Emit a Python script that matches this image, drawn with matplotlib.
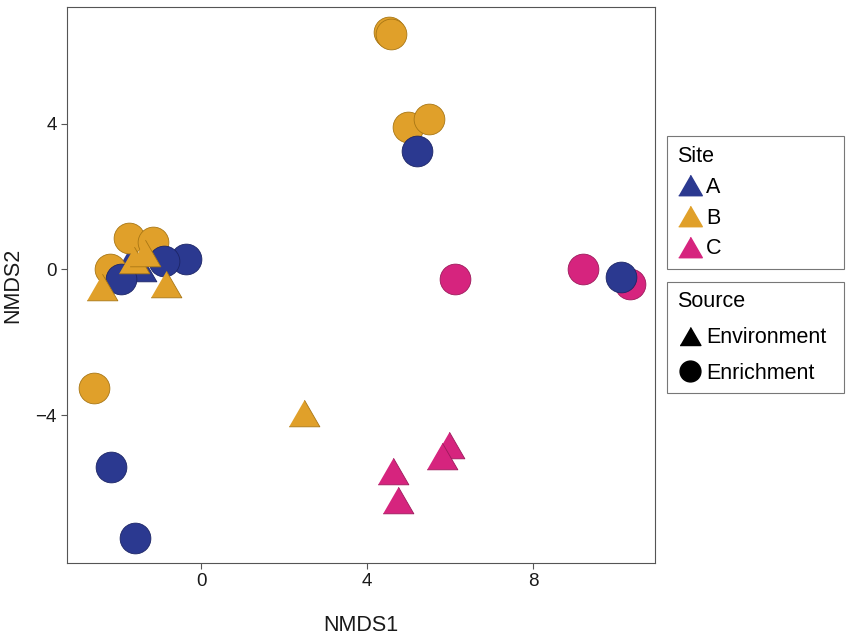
import matplotlib
matplotlib.use("Agg")
import matplotlib.pyplot as plt
from matplotlib.lines import Line2D

plt.rcParams['font.family'] = ['Liberation Sans', 'DejaVu Sans']

# NMDS scores, one list per site/source group
a_env_x = [-1.75, -1.45, -1.2]
a_env_y = [0.2, 0.05, 0.5]
a_enr_x = [5.2, -0.38, -0.9, -1.94, -2.17, -1.59, 10.12]
a_enr_y = [3.24, 0.29, 0.23, -0.27, -5.41, -7.36, -0.22]
b_env_x = [-2.39, -0.86, -1.62, 2.48, -1.35]
b_env_y = [-0.49, -0.41, 0.27, -3.93, 0.45]
b_enr_x = [4.53, 4.56, 4.99, 5.49, -2.58, -1.74, -1.16, -2.2]
b_enr_y = [6.51, 6.45, 3.90, 4.12, -3.24, 0.85, 0.76, 0.0]
c_env_x = [4.63, 4.73, 5.96, 5.8]
c_env_y = [-5.54, -6.32, -4.81, -5.13]
c_enr_x = [6.12, 9.2, 10.34]
c_enr_y = [-0.25, 0.0, -0.41]

sites = ['A', 'B', 'C']
site_colors = {'A': '#2b3990', 'B': '#e0a02a', 'C': '#d6247e'}
edge_colors = {'A': '#1c2566', 'B': '#a87614', 'C': '#9c1a5b'}
source_labels = ['Environment', 'Enrichment']

# equilateral triangle like ggplot's filled triangle
tri = [(-1, -0.866), (1, -0.866), (0, 0.866)]
source_markers = {'Environment': tri, 'Enrichment': 'o'}

# drawing order (later groups end up on top)
groups = [
    ('C', 'Enrichment', c_enr_x, c_enr_y),
    ('A', 'Environment', a_env_x, a_env_y),
    ('B', 'Enrichment', b_enr_x, b_enr_y),
    ('A', 'Enrichment', a_enr_x, a_enr_y),
    ('B', 'Environment', b_env_x, b_env_y),
    ('C', 'Environment', c_env_x, c_env_y),
]

fig = plt.figure(figsize=(8.51, 6.36), dpi=100)
ax = fig.add_axes([0.079, 0.115, 0.691, 0.874])

for site, src, xs, ys in groups:
    ax.scatter(xs, ys, s=490, marker=source_markers[src],
               c=site_colors[site], edgecolors=edge_colors[site],
               linewidths=0.6)

ax.set_xlim(-3.23, 10.94)
ax.set_ylim(-8.05, 7.2)
ax.set_xticks([0, 4, 8])
ax.set_yticks([-4, 0, 4])
ax.set_yticklabels(['\u22124', '0', '4'])
ax.tick_params(labelsize=13.5, length=4, color='#555555', labelcolor='#1a1a1a')
for sp in ax.spines.values():
    sp.set_color('#555555')
    sp.set_linewidth(0.8)
ax.set_xlabel('NMDS1', fontsize=15.5, color='#1a1a1a', labelpad=18)
ax.set_ylabel('NMDS2', fontsize=15.5, color='#1a1a1a', labelpad=9)

site_handles = [Line2D([], [], marker=tri, ls='', markersize=17,
                       markerfacecolor=site_colors[s], markeredgecolor=site_colors[s])
                for s in sites]
src_handles = [Line2D([], [], marker=source_markers[s], ls='', markersize=15,
                      markerfacecolor='black', markeredgecolor='black')
               for s in source_labels]

leg_kw = dict(loc='upper left', mode='expand', fontsize=15.5, title_fontsize=15.5,
              fancybox=False, edgecolor='#555555', handletextpad=0.15,
              handlelength=1.2, borderpad=0.45, borderaxespad=0)
leg1 = fig.legend(site_handles, sites, title='Site', labelspacing=0.46,
                  bbox_to_anchor=(0.784, 0.786, 0.208, 0), **leg_kw)
leg1._legend_box.align = 'left'
leg1.get_frame().set_linewidth(0.8)
leg2 = fig.legend(src_handles, source_labels, title='Source', labelspacing=0.68,
                  bbox_to_anchor=(0.784, 0.557, 0.208, 0), **leg_kw)
leg2._legend_box.align = 'left'
leg2.get_frame().set_linewidth(0.8)

fig.savefig('out.png', dpi=100)
